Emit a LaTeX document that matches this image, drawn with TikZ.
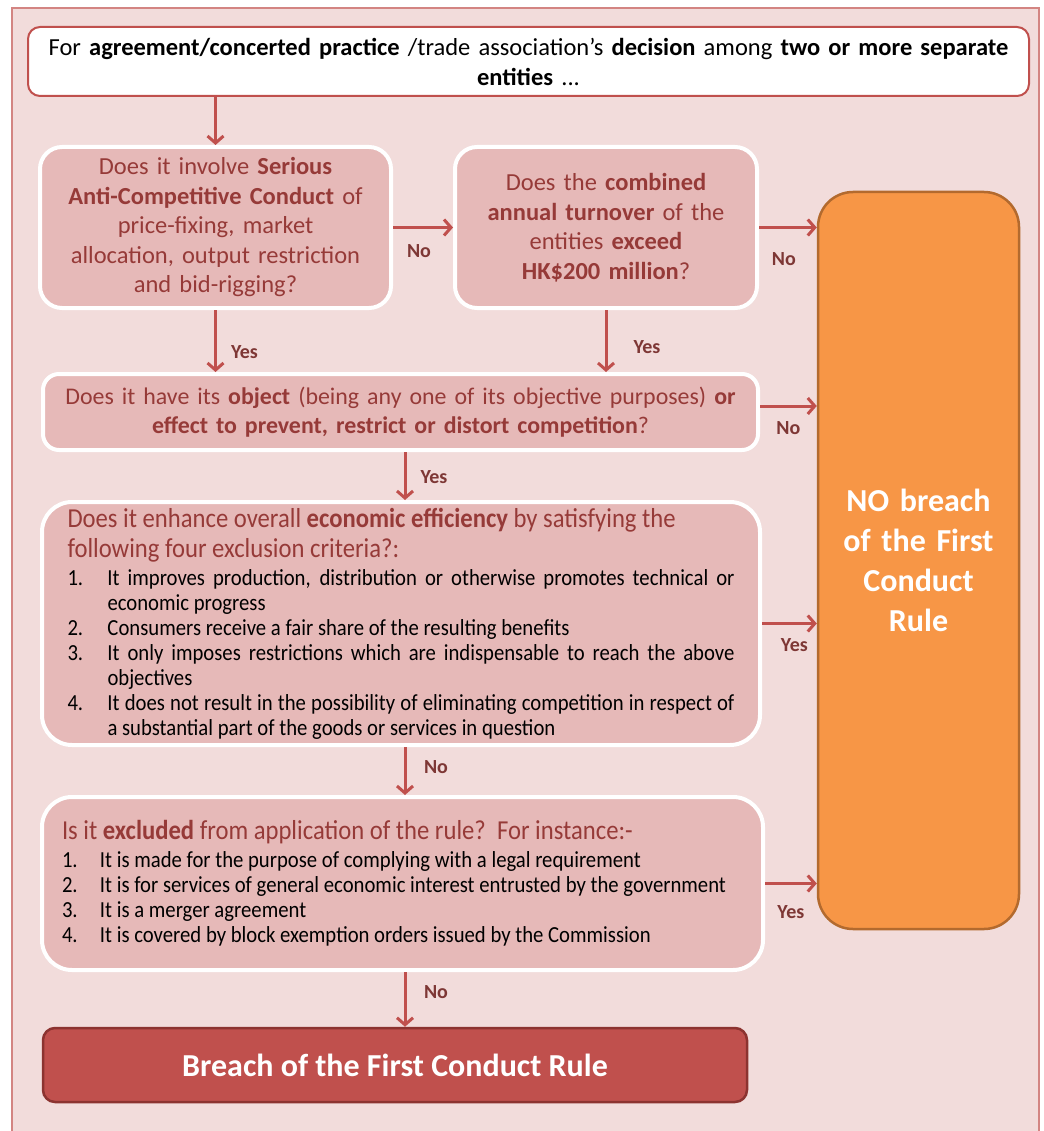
\documentclass[tikz,border=0pt]{standalone}
\usepackage{fontspec}
\setmainfont{Carlito}
\newfontfamily\condfont{Carlito}[FakeStretch=0.9]
\usetikzlibrary{arrows.meta}

\definecolor{bgpink}{HTML}{F2DCDB}
\definecolor{framered}{HTML}{C0504D}
\definecolor{boxpink}{HTML}{E6B9B8}
\definecolor{textred}{HTML}{963A38}
\definecolor{nobfill}{HTML}{F79646}
\definecolor{nobdraw}{HTML}{B36A2E}
\definecolor{brcfill}{HTML}{C0504D}
\definecolor{brcdraw}{HTML}{8C3330}
\definecolor{lblcol}{HTML}{7E3735}

\tikzset{
    startbox/.style = {
        rectangle,
        draw=framered,
        line width=2pt,
        fill=white,
        rounded corners=12pt,
        inner sep=0pt,
        align=center,
        font=\fontsize{24.5}{30}\selectfont,
    },
    question/.style = {
        rectangle,
        draw=white,
        line width=4pt,
        fill=boxpink,
        text=textred,
        rounded corners=22pt,
        inner sep=0pt,
        align=center,
        font=\fontsize{24.5}{29.5}\selectfont,
    },
    listbox/.style = {
        question,
        rounded corners=30pt,
        text=black,
        align=justify,
        font=\condfont\fontsize{23}{25}\selectfont,
    },
    nobreach/.style = {
        rectangle,
        draw=nobdraw,
        line width=2.5pt,
        fill=nobfill,
        text=white,
        rounded corners=35pt,
        inner sep=0pt,
        align=center,
        font=\bfseries\fontsize{32}{40}\selectfont,
    },
    breach/.style = {
        rectangle,
        draw=brcdraw,
        line width=2.5pt,
        fill=brcfill,
        text=white,
        rounded corners=12pt,
        inner sep=0pt,
        font=\bfseries\fontsize{32}{36}\selectfont,
    },
    flow/.style = {-{Straight Barb[length=7pt,width=16pt]}, line width=3pt, draw=framered},
    lbl/.style = {font=\bfseries\fontsize{20}{20}\selectfont, text=lblcol, inner sep=0pt}
}

% list entry with hanging number
\newcommand{\critem}[3][40pt]{\par\hangindent=#1\hangafter=1\noindent\makebox[#1][l]{#2}#3}
\newcommand{\crhead}[1]{{\color{textred}\fontsize{27.4}{30}\selectfont #1\par}\vskip3pt}

\begin{document}
\begin{tikzpicture}[x=1pt, y=-1pt]
  \useasboundingbox (0,0) rectangle (1043,1131);

  % Background panel
  \fill[bgpink] (12,8) rectangle (1039,1131);
  \draw[framered!70, line width=1.5pt] (12,1131) -- (12,8) -- (1039,8) -- (1039,1131);

  % Question boxes
  \node[startbox, minimum width=1001pt, minimum height=69pt, text width=990pt] (start) at (528.5,61.5)
    {For \textbf{agreement/concerted practice} /trade association’s \textbf{decision} among \textbf{two or more separate}\\\textbf{entities} ...};

  \node[question, minimum width=351pt, minimum height=161pt, text width=340pt] (q1) at (215.5,227.5)
    {Does it involve \textbf{Serious}\\\textbf{Anti-Competitive Conduct} of\\price-fixing, market\\allocation, output restriction\\and bid-rigging?};

  \node[question, minimum width=302pt, minimum height=161pt, text width=290pt] (q2) at (606,227.5)
    {Does the \textbf{combined}\\\textbf{annual turnover} of the\\entities \textbf{exceed}\\\textbf{HK\$200 million}?};

  \node[question, rounded corners=16pt, minimum width=715pt, minimum height=76pt, text width=700pt,
        font=\fontsize{23.9}{29}\selectfont] (q3) at (400.5,412)
    {Does it have its \textbf{object} (being any one of its objective purposes) \textbf{or}\\\textbf{effect to prevent, restrict or distort competition}?};

  \node[listbox, minimum width=718pt, minimum height=243pt, text width=667pt] (q4) at (401,623.5)
    {\crhead{Does it enhance overall \textbf{economic efficiency} by satisfying the\newline following four exclusion criteria?:}%
     \critem{1.}{It improves production, distribution or otherwise promotes technical or\linebreak economic progress}
     \critem{2.}{Consumers receive a fair share of the resulting benefits}
     \critem{3.}{It only imposes restrictions which are indispensable to reach the above\linebreak objectives}
     \critem{4.}{It does not result in the possibility of eliminating competition in respect of\linebreak a substantial part of the goods or services in question}\par};

  \node[listbox, minimum width=721pt, minimum height=173pt, text width=681pt] (q5) at (402.5,883.5)
    {\crhead{Is it \textbf{excluded} from application of the rule?\ \ For instance:-}%
     \critem[38pt]{1.}{It is made for the purpose of complying with a legal requirement}
     \critem[38pt]{2.}{It is for services of general economic interest entrusted by the government}
     \critem[38pt]{3.}{It is a merger agreement}
     \critem[38pt]{4.}{It is covered by block exemption orders issued by the Commission}\par};

  % Outcomes
  \node[nobreach, minimum width=201pt, minimum height=737pt, text width=190pt] (nob) at (918.5,560.5)
    {NO breach\\of the First\\Conduct\\Rule};
  \node[breach, minimum width=704pt, minimum height=74pt] (brc) at (395,1065)
    {Breach of the First Conduct Rule};

  % Flow down the left column
  \coordinate (spine) at (405,0);
  \draw[flow] (start.south -| q1.north) -- (q1.north);
  \draw[flow] (q1.south) -- node[lbl, xshift=29pt, yshift=-11pt] {Yes} (q1.south |- q3.north);
  \draw[flow] (q2.south) -- node[lbl, xshift=41pt, yshift=-6pt] {Yes} (q2.south |- q3.north);
  \draw[flow] (q3.south -| spine) -- node[lbl, xshift=29pt, yshift=-1pt] {Yes} (q4.north -| spine);
  \draw[flow] (q4.south -| spine) -- node[lbl, xshift=31pt, yshift=4pt] {No} (q5.north -| spine);
  \draw[flow] (q5.south -| spine) -- node[lbl, xshift=31pt, yshift=7pt] {No} (brc.north -| spine);

  % Flow to the right
  \draw[flow] (q1.east) -- node[lbl, xshift=-4pt, yshift=-24pt] {No} (q2.west);
  \draw[flow] (q2.east) -- node[lbl, xshift=-4pt, yshift=-32pt] {No} (q2.east -| nob.west);
  \draw[flow] ([yshift=6pt]q3.east) -- node[lbl, yshift=-22pt] {No} ([yshift=6pt]q3.east -| nob.west);
  \draw[flow] (q4.east) -- node[lbl, xshift=5pt, yshift=-22pt] {Yes} (q4.east -| nob.west);
  \draw[flow] (q5.east) -- node[lbl, yshift=-29pt] {Yes} (q5.east -| nob.west);

\end{tikzpicture}
\end{document}
